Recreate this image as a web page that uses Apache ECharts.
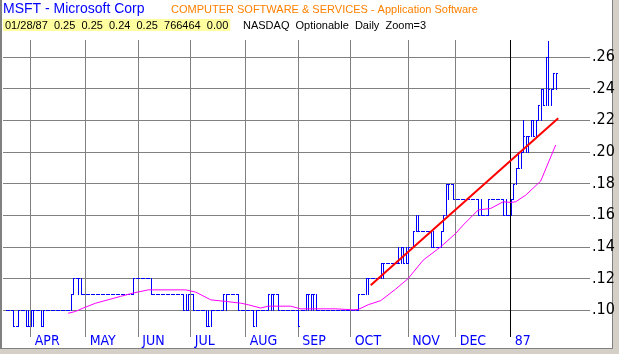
<!DOCTYPE html>
<html>
<head>
<meta charset="utf-8">
<script src="https://cdn.jsdelivr.net/npm/echarts@6/dist/echarts.min.js"></script>
<style>
  html, body { margin: 0; padding: 0; background: #fff; }
  #chart { width: 619px; height: 354px; }
</style>
</head>
<body>
<div id="chart"></div>
<script>
// trading day index 0 = 03/17/86, last = 01/28/87
var highs = [
  .10,.10,.10,.10,.09,.10,.10,.10,.10,.10,
  .10,.10,.10,.10,.10,.10,.10,.10,.10,.10,.10,.10,.10,.10,.10,.10,.11,.12,.12,.12,.12,.11,
  .11,.11,.11,.11,.11,.11,.11,.11,.11,.11,.11,.11,.11,.11,.11,.11,.11,.11,.11,.12,.12,
  .12,.12,.12,.12,.12,.12,.11,.11,.11,.11,.11,.11,.11,.11,.11,.11,.11,.11,.11,.11,.11,
  .11,.11,.10,.10,.10,.10,.10,.10,.10,.10,.10,.10,.10,.11,.11,.11,.11,.11,.11,.11,.10,.10,
  .10,.10,.10,.10,.10,.10,.10,.10,.10,.11,.11,.11,.11,.11,.10,.10,.10,.10,.10,.10,.10,
  .10,.10,.10,.11,.11,.11,.11,.11,.10,.10,.10,.10,.10,.10,.10,.10,.10,.10,.10,.10,.10,
  .10,.10,.10,.11,.11,.11,.12,.12,.12,.12,.12,.12,.13,.13,.13,.13,.13,.13,.13,.14,.14,.14,.14,
  .14,.14,.15,.16,.16,.15,.15,.15,.15,.15,.15,.14,.14,.15,.16,.18,.18,.18,.18,
  .17,.17,.17,.17,.17,.17,.17,.17,.17,.17,.17,.16,.16,.17,.17,.17,.17,.17,.17,.17,.17,.16,
  .17,.18,.19,.20,.20,.22,.21,.21,.22,.22,.22,.23,.24,.24,.26,.27,.24,.25,.25
];
var lows = [
  .10,.10,.10,.09,.09,.09,.10,.10,.09,.09,
  .09,.09,.10,.10,.09,.09,.10,.10,.10,.10,.10,.10,.10,.10,.10,.10,.10,.11,.12,.11,.11,.11,
  .11,.11,.11,.11,.11,.11,.11,.11,.11,.11,.11,.11,.11,.11,.11,.11,.11,.11,.11,.11,.12,
  .12,.12,.12,.12,.12,.11,.11,.11,.11,.11,.11,.11,.11,.11,.11,.11,.11,.11,.10,.10,.10,
  .11,.10,.10,.10,.10,.10,.09,.09,.09,.10,.10,.10,.10,.10,.10,.11,.11,.11,.11,.10,.10,.10,
  .10,.10,.10,.09,.09,.10,.10,.10,.10,.10,.10,.10,.11,.10,.10,.10,.10,.10,.10,.10,.10,
  .09,.10,.10,.10,.10,.10,.10,.10,.10,.10,.10,.10,.10,.10,.10,.10,.10,.10,.10,.10,.10,
  .10,.10,.10,.10,.11,.11,.11,.11,.12,.12,.12,.12,.12,.12,.13,.13,.13,.13,.13,.13,.13,.13,.13,
  .13,.14,.14,.15,.15,.15,.15,.15,.15,.14,.14,.14,.14,.14,.15,.16,.17,.18,.17,
  .17,.17,.17,.17,.17,.17,.17,.17,.17,.16,.16,.16,.16,.16,.17,.17,.17,.17,.17,.16,.16,.16,
  .16,.17,.18,.19,.19,.20,.20,.20,.21,.21,.21,.22,.22,.23,.23,.23,.23,.24,.24
];
var closes = [
  .10,.10,.10,.09,.09,.10,.10,.10,.09,.09,
  .10,.10,.10,.10,.09,.10,.10,.10,.10,.10,.10,.10,.10,.10,.10,.10,.11,.12,.12,.12,.11,.11,
  .11,.11,.11,.11,.11,.11,.11,.11,.11,.11,.11,.11,.11,.11,.11,.11,.11,.11,.11,.12,.12,
  .12,.12,.12,.12,.12,.11,.11,.11,.11,.11,.11,.11,.11,.11,.11,.11,.11,.11,.10,.10,.11,
  .11,.10,.10,.10,.10,.10,.09,.09,.10,.10,.10,.10,.10,.11,.11,.11,.11,.11,.11,.10,.10,.10,
  .10,.10,.10,.09,.10,.10,.10,.10,.10,.11,.11,.11,.11,.10,.10,.10,.10,.10,.10,.10,.10,
  .09,.10,.10,.11,.11,.11,.11,.10,.10,.10,.10,.10,.10,.10,.10,.10,.10,.10,.10,.10,.10,
  .10,.10,.10,.11,.11,.11,.12,.12,.12,.12,.12,.12,.13,.13,.13,.13,.13,.13,.13,.13,.14,.13,.13,
  .14,.14,.15,.15,.15,.15,.15,.15,.15,.14,.14,.14,.14,.15,.16,.18,.18,.18,.17,
  .17,.17,.17,.17,.17,.17,.17,.17,.17,.16,.16,.16,.16,.17,.17,.17,.17,.17,.17,.16,.16,.16,
  .17,.18,.19,.19,.20,.21,.21,.21,.22,.21,.22,.23,.24,.23,.26,.24,.24,.25,.25
];

// moving average
var maDays   = [25, 28, 31, 36, 46, 51, 57, 72, 76, 82, 88, 94, 97, 102, 105, 114, 118, 132, 139, 141, 145, 150, 156, 161, 167, 174, 180, 183, 189, 194, 199, 202, 204, 208, 214, 220];
var maValues = [.098, .0992, .1013, .1044, .1087, .1108, .1128, .1128, .1114, .1065, .1055, .1044, .1034, .1013, .1025, .1025, .1008, .1008, .1002, .1004, .1034, .106, .1133, .120, .1316, .140, .1485, .1538, .1633, .1643, .1685, .1681, .1685, .1727, .1816, .2044];

// red trend line
var trendDays   = [146, 221];
var trendValues = [.1157, .2213];

var xTicks  = [10, 32, 53, 74, 96, 117, 138, 161, 180, 202];
var xLabels = ['APR', 'MAY', 'JUN', 'JUL', 'AUG', 'SEP', 'OCT', 'NOV', 'DEC', '87'];
var yTicks  = [.10, .12, .14, .16, .18, .20, .22, .24, .26];

var narrow = "'Liberation Sans Narrow', 'DejaVu Sans Condensed', 'Liberation Sans', sans-serif";

var chart = echarts.init(document.getElementById('chart'));

var barData = highs.map(function (h, i) {
  return [i, h, lows[i], closes[i]];
});

function renderBar(params, api) {
  var x = Math.round(api.coord([api.value(0), 0])[0]);
  var yh = Math.round(api.coord([0, api.value(1)])[1]);
  var yl = Math.round(api.coord([0, api.value(2)])[1]);
  var yc = Math.round(api.coord([0, api.value(3)])[1]);
  return {
    type: 'group',
    children: [
      { type: 'rect', shape: { x: x, y: yh, width: 1, height: yl - yh + 1 }, style: { fill: '#0000ff' } },
      { type: 'rect', shape: { x: x + 1, y: yc, width: 1, height: 1 }, style: { fill: '#0000ff' } }
    ]
  };
}

var option = {
  backgroundColor: '#ffffff',
  animation: false,
  title: [
    {
      text: 'MSFT - Microsoft Corp',
      left: 3, top: 2, padding: 0,
      textStyle: { color: '#0000ff', fontSize: 14, fontWeight: 'normal', fontFamily: 'Liberation Sans' }
    },
    {
      text: 'COMPUTER SOFTWARE & SERVICES - Application Software',
      left: 171, top: 4, padding: 0,
      textStyle: { color: '#ff8000', fontSize: 11, fontWeight: 'normal', fontFamily: 'Liberation Sans' }
    },
    {
      text: '01/28/87  0.25  0.25  0.24  0.25  766464  0.00',
      left: 3, top: 19, padding: [1, 2, 0, 2],
      backgroundColor: '#ffffa0',
      textStyle: { color: '#000000', fontSize: 11, fontWeight: 'normal', fontFamily: 'Liberation Sans' }
    },
    {
      text: 'NASDAQ  Optionable  Daily  Zoom=3',
      left: 243, top: 20, padding: 0,
      textStyle: { color: '#000000', fontSize: 11, fontWeight: 'normal', fontFamily: 'Liberation Sans' }
    }
  ],
  graphic: [
    { type: 'rect', left: 612, top: 0, shape: { width: 7, height: 354 }, style: { fill: '#d4d0c8' }, silent: true },
    { type: 'rect', left: 612, top: 0, shape: { width: 1, height: 349 }, style: { fill: '#808080' }, silent: true },
    { type: 'rect', left: 0, top: 348, shape: { width: 619, height: 6 }, style: { fill: '#d4d0c8' }, silent: true },
    { type: 'rect', left: 0, top: 348, shape: { width: 613, height: 1 }, style: { fill: '#808080' }, silent: true },
    { type: 'rect', left: 0, top: 0, shape: { width: 2, height: 349 }, style: { fill: '#808080' }, silent: true }
  ],
  grid: { left: 3, right: 29, top: 40, bottom: 17 },
  xAxis: {
    type: 'value',
    min: -1.08,
    max: 233.72,
    axisLine: { show: false },
    axisTick: { show: false, customValues: xTicks },
    axisLabel: {
      customValues: xTicks,
      align: 'left',
      margin: -3,
      padding: [0, 0, 0, 4],
      fontFamily: narrow,
      fontSize: 14,
      color: function (v) {
        return xLabels[xTicks.indexOf(v)] === '87' ? '#000000' : '#0000ff';
      },
      formatter: function (v) {
        return xLabels[xTicks.indexOf(v)];
      }
    },
    splitLine: {
      show: true,
      lineStyle: {
        color: ['#808080', '#808080', '#808080', '#808080', '#808080', '#808080', '#808080', '#808080', '#808080', '#000000'],
        width: 1
      }
    }
  },
  yAxis: {
    type: 'value',
    position: 'right',
    min: 0.083,
    max: 0.2708,
    axisLine: { show: false },
    axisTick: { show: false, customValues: yTicks },
    axisLabel: {
      customValues: yTicks,
      margin: 2,
      fontFamily: narrow,
      fontSize: 16,
      color: '#000000',
      formatter: function (v) {
        return v.toFixed(2).replace(/^0/, '');
      }
    },
    splitLine: { show: true, lineStyle: { color: '#808080', width: 1 } }
  },
  series: [
    {
      name: 'MSFT',
      type: 'custom',
      renderItem: renderBar,
      data: barData,
      encode: { x: 0, y: [1, 2, 3] },
      clip: true,
      z: 2
    },
    {
      name: 'MA',
      type: 'line',
      data: maDays.map(function (d, i) { return [d, maValues[i]]; }),
      symbol: 'none',
      lineStyle: { color: '#ff00ff', width: 1 },
      z: 3
    },
    {
      name: 'Trend',
      type: 'line',
      data: trendDays.map(function (d, i) { return [d, trendValues[i]]; }),
      symbol: 'none',
      lineStyle: { color: '#ff0000', width: 2 },
      z: 4
    }
  ]
};
chart.setOption(option);
</script>
</body>
</html>
